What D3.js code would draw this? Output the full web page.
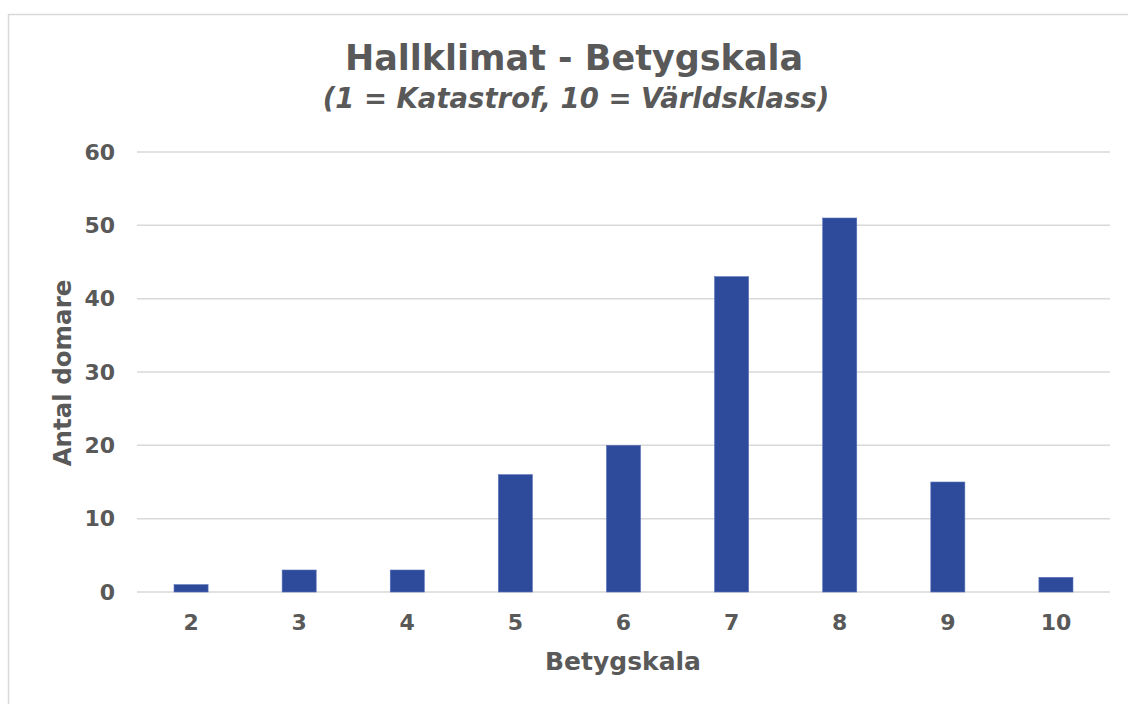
<!DOCTYPE html>
<html><head><meta charset="utf-8">
<script src="https://cdn.jsdelivr.net/npm/d3@7"></script>
<style>body{margin:0;background:#fff}svg{display:block}text{font-family:"DejaVu Sans",sans-serif;fill:#595959;font-weight:bold}</style>
</head><body>
<script>
const categories = ["2","3","4","5","6","7","8","9","10"];
const values = [1,3,3,16,20,43,51,15,2];
const yTicks = [0,10,20,30,40,50,60];
const title = "Hallklimat - Betygskala";
const subtitle = "(1 = Katastrof, 10 = Världsklass)";
const xTitle = "Betygskala";
const yTitle = "Antal domare";

const W=1128,H=704;
const svg=d3.select("body").append("svg").attr("width",W).attr("height",H);
svg.append("rect").attr("x",8.5).attr("y",14.5).attr("width",W).attr("height",H).attr("fill","#fff").attr("stroke","#d9d9d9").attr("stroke-width",1.5);

const x=d3.scaleBand().domain(categories).range([137,1110]).paddingInner(0.685).paddingOuter(0.3425);
const y=d3.scaleLinear().domain([0,60]).range([592,152]);

const grid=svg.append("g");
grid.selectAll("line").data(yTicks).join("line")
 .attr("x1",137).attr("x2",1110).attr("y1",d=>y(d)).attr("y2",d=>y(d))
 .attr("stroke","#d9d9d9").attr("stroke-width",1.5);

svg.append("g").selectAll("rect").data(values).join("rect")
 .attr("x",(d,i)=>x(categories[i])).attr("width",x.bandwidth())
 .attr("y",d=>y(d)).attr("height",d=>y(0)-y(d))
 .attr("fill","#2e4a9a").attr("stroke","#5870b8").attr("stroke-width",0.6);

const yAxis=svg.append("g").attr("transform","translate(137,0)")
 .call(d3.axisLeft(y).tickValues(yTicks).tickSize(0).tickPadding(22));
yAxis.select(".domain").remove();
yAxis.selectAll("text").attr("font-size",22).attr("fill","#595959").attr("font-family","DejaVu Sans").attr("font-weight","bold");

const xAxis=svg.append("g").attr("transform","translate(0,592)")
 .call(d3.axisBottom(x).tickSize(0).tickPadding(22));
xAxis.select(".domain").remove();
xAxis.selectAll("text").attr("font-size",22).attr("fill","#595959").attr("font-family","DejaVu Sans").attr("font-weight","bold");

svg.append("text").attr("x",574).attr("y",70).attr("text-anchor","middle").attr("font-size",35).text(title);
svg.append("text").attr("x",576).attr("y",108).attr("text-anchor","middle").attr("font-size",27.5).attr("font-style","italic").attr("fill","#525252").text(subtitle);
svg.append("text").attr("x",623).attr("y",670).attr("text-anchor","middle").attr("font-size",25).text(xTitle);
svg.append("text").attr("transform","translate(71,373) rotate(-90)").attr("text-anchor","middle").attr("font-size",24.5).text(yTitle);
</script>
</body></html>
